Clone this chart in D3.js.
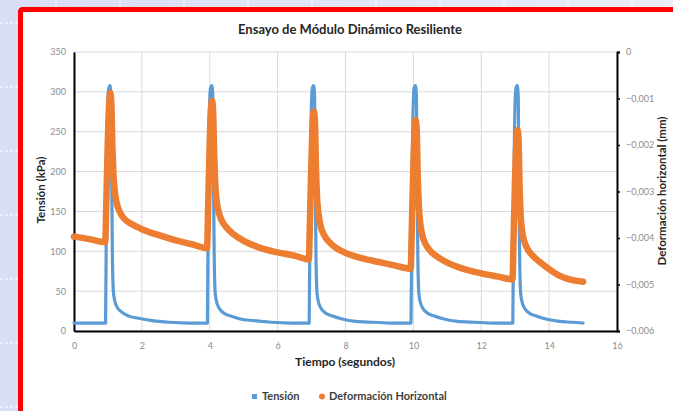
<!DOCTYPE html>
<html lang="es">
<head>
<meta charset="utf-8">
<title>Ensayo de Módulo Dinámico Resiliente</title>
<script src="https://d3js.org/d3.v7.min.js"></script>
<style>
  html, body { margin: 0; padding: 0; background: #fff; }
  svg { display: block; font-family: Lato, "Open Sans", sans-serif; }
</style>
</head>
<body>
<div id="chart"></div>
<script>
// Valores: [tiempo (s), valor]
var tension = [
  [0,10],[0.93,10],[0.95,120],[0.98,250],[1.02,303],[1.06,308],[1.09,295],[1.11,200],[1.13,100],[1.16,50],
  [1.2,38],[1.27,30],[1.4,24],[1.6,19],[1.9,16],[2.3,13],[2.8,11],[3.4,10],[3.93,10],
  [3.95,125],[3.98,255],[4.02,304],[4.06,308],[4.09,296],[4.11,195],[4.13,100],[4.16,48],
  [4.2,37],[4.27,29],[4.4,23],[4.6,19],[4.9,15],[5.3,13],[5.8,11],[6.4,10],[6.93,10],
  [6.95,120],[6.98,250],[7.02,304],[7.06,308],[7.09,294],[7.11,200],[7.13,95],[7.16,48],
  [7.2,37],[7.27,29],[7.4,23],[7.6,19],[7.9,15],[8.3,12],[8.8,11],[9.4,10],[9.93,10],
  [9.95,120],[9.98,252],[10.02,304],[10.06,308],[10.09,295],[10.11,198],[10.13,98],[10.16,48],
  [10.2,37],[10.27,29],[10.4,23],[10.6,19],[10.9,15],[11.3,12],[11.8,11],[12.4,10],[12.93,10],
  [12.95,122],[12.98,252],[13.02,304],[13.06,308],[13.09,295],[13.11,198],[13.13,98],[13.16,48],
  [13.2,37],[13.27,29],[13.4,23],[13.6,19],[13.9,15],[14.3,12],[14.7,11],[15.0,10]
];

var deformacion = [
  [0,-0.00397],[0.5,-0.00403],[0.92,-0.00409],[0.95,-0.0033],[0.99,-0.0021],[1.03,-0.0012],[1.07,-0.00088],
  [1.10,-0.0011],[1.13,-0.0020],[1.16,-0.0026],[1.2,-0.00298],[1.26,-0.00325],[1.35,-0.00344],[1.5,-0.0036],
  [1.7,-0.0037],[2.0,-0.00381],[2.5,-0.00394],[3.0,-0.00405],[3.5,-0.00414],[3.92,-0.00422],
  [3.95,-0.0034],[3.99,-0.0022],[4.03,-0.0013],[4.07,-0.00105],[4.10,-0.0013],[4.13,-0.0022],[4.16,-0.0028],
  [4.2,-0.00318],[4.26,-0.00343],[4.35,-0.00362],[4.5,-0.00378],[4.7,-0.00392],[5.0,-0.00406],[5.4,-0.00419],
  [6.0,-0.00431],[6.5,-0.00438],[6.92,-0.00446],
  [6.95,-0.0037],[6.99,-0.0025],[7.03,-0.0016],[7.07,-0.00128],[7.10,-0.0015],[7.13,-0.0025],[7.16,-0.0031],
  [7.2,-0.00345],[7.26,-0.00372],[7.35,-0.00391],[7.5,-0.00407],[7.7,-0.0042],[8.0,-0.00432],[8.5,-0.00444],
  [9.0,-0.00452],[9.5,-0.0046],[9.92,-0.00466],
  [9.95,-0.0039],[9.99,-0.0027],[10.03,-0.0018],[10.07,-0.00146],[10.10,-0.0017],[10.13,-0.0027],[10.16,-0.0033],
  [10.2,-0.00367],[10.26,-0.00393],[10.35,-0.00412],[10.5,-0.00428],[10.7,-0.0044],[11.0,-0.00453],[11.5,-0.00467],
  [12.0,-0.00476],[12.5,-0.00483],[12.92,-0.00489],
  [12.95,-0.0041],[12.99,-0.0029],[13.03,-0.002],[13.07,-0.00168],[13.10,-0.0019],[13.13,-0.0029],[13.16,-0.0035],
  [13.2,-0.00383],[13.26,-0.00405],[13.35,-0.00422],[13.5,-0.00437],[13.7,-0.0045],[14.0,-0.00467],[14.3,-0.00481],
  [14.6,-0.00489],[15.0,-0.00494]
];

var ticksTiempo = [0,2,4,6,8,10,12,14,16];
var ticksTension = [0,50,100,150,200,250,300,350];
var ticksDeform = [0,-0.001,-0.002,-0.003,-0.004,-0.005,-0.006];
var leyenda = ["Tensión", "Deformación Horizontal"];

var W = 673, H = 411;
var svg = d3.select("#chart").append("svg").attr("width", W).attr("height", H);

// fondo de la diapositiva
var grad = svg.append("defs").append("linearGradient").attr("id", "bg")
  .attr("x1", 0).attr("y1", 0).attr("x2", 1).attr("y2", 0);
grad.append("stop").attr("offset", "0%").attr("stop-color", "#d8dff4");
grad.append("stop").attr("offset", "100%").attr("stop-color", "#e9edf9");
svg.append("rect").attr("width", W).attr("height", H).attr("fill", "url(#bg)");
var bgLines = svg.append("g").attr("stroke", "#fff").attr("stroke-width", 1).attr("stroke-dasharray", "3,2");
d3.range(56, W, 64).forEach(function(x) {
  bgLines.append("line").attr("x1", x).attr("x2", x).attr("y1", 0).attr("y2", H);
});
d3.range(23, H, 64).forEach(function(y) {
  bgLines.append("line").attr("x1", 0).attr("x2", W).attr("y1", y).attr("y2", y);
});

// marco rojo
svg.append("rect").attr("x", 20.5).attr("y", 9.5).attr("width", W).attr("height", H)
  .attr("rx", 2).attr("fill", "#fff").attr("stroke", "#ff0000").attr("stroke-width", 5);

var x = d3.scaleLinear().domain([0, 16]).range([74, 617]);
var yL = d3.scaleLinear().domain([0, 350]).range([331, 52]);
var yR = d3.scaleLinear().domain([-0.006, 0]).range([331, 52]);

// rejilla
var grid = svg.append("g").attr("stroke", "#d9d9d9").attr("stroke-width", 1);
ticksTension.forEach(function(v) {
  grid.append("line").attr("x1", x(0)).attr("x2", x(16)).attr("y1", yL(v)).attr("y2", yL(v));
});
ticksTiempo.forEach(function(v) {
  grid.append("line").attr("x1", x(v)).attr("x2", x(v)).attr("y1", yL(0)).attr("y2", yL(350));
});

// ejes
var fmtR = function(d) { return d === 0 ? "0" : d3.format(".3f")(d).replace(".", ","); };
var ejeX = svg.append("g").attr("transform", "translate(0," + yL(0) + ")")
  .call(d3.axisBottom(x).tickValues(ticksTiempo).tickSize(0).tickPadding(12));
var ejeL = svg.append("g").attr("transform", "translate(" + x(0) + ",0)")
  .call(d3.axisLeft(yL).tickValues(ticksTension).tickSize(0).tickPadding(8));
var ejeR = svg.append("g").attr("transform", "translate(" + x(16) + ",0)")
  .call(d3.axisRight(yR).tickValues(ticksDeform).tickFormat(fmtR).tickSize(3).tickPadding(6));
[ejeX, ejeL, ejeR].forEach(function(g) {
  g.select(".domain").attr("stroke", "#000").attr("stroke-width", 2);
  g.selectAll(".tick line").attr("stroke", "#000").attr("stroke-width", 1.5);
  g.selectAll(".tick text").attr("fill", "#8c8c8c").attr("font-size", 9)
    .attr("font-family", "Lato, sans-serif");
});

// series
var lineL = d3.line().curve(d3.curveMonotoneX)
  .x(function(d) { return x(d[0]); }).y(function(d) { return yL(d[1]); });
var lineR = d3.line().curve(d3.curveMonotoneX)
  .x(function(d) { return x(d[0]); }).y(function(d) { return yR(d[1]); });
svg.append("path").datum(tension).attr("d", lineL)
  .attr("fill", "none").attr("stroke", "#5b9bd5").attr("stroke-width", 3.2)
  .attr("stroke-linejoin", "round").attr("stroke-linecap", "round");
svg.append("path").datum(deformacion).attr("d", lineR)
  .attr("fill", "none").attr("stroke", "#ed7d31").attr("stroke-width", 6.5)
  .attr("stroke-linejoin", "round").attr("stroke-linecap", "round");

// titulos
svg.append("text").attr("x", 350).attr("y", 34).attr("text-anchor", "middle")
  .attr("font-size", 13).attr("font-weight", "bold").attr("fill", "#262626")
  .text("Ensayo de Módulo Dinámico Resiliente");
svg.append("text").attr("x", 345).attr("y", 366).attr("text-anchor", "middle")
  .attr("font-size", 12).attr("font-weight", "bold").attr("fill", "#262626")
  .text("Tiempo (segundos)");
svg.append("text").attr("transform", "translate(45,190) rotate(-90)").attr("text-anchor", "middle")
  .attr("font-size", 11.5).attr("font-weight", "bold").attr("fill", "#262626")
  .text("Tensión (kPa)");
svg.append("text").attr("transform", "translate(666,191) rotate(-90)").attr("text-anchor", "middle")
  .attr("font-size", 11.5).attr("font-weight", "bold").attr("fill", "#262626")
  .text("Deformación horizontal (mm)");

// leyenda
var ley = svg.append("g").attr("font-size", 11).attr("font-weight", "bold").attr("fill", "#404040");
ley.append("rect").attr("x", 252).attr("y", 394).attr("width", 5).attr("height", 5).attr("fill", "#5b9bd5");
ley.append("text").attr("x", 262).attr("y", 400).text(leyenda[0]);
ley.append("circle").attr("cx", 322).attr("cy", 396.5).attr("r", 3).attr("fill", "#ed7d31");
ley.append("text").attr("x", 329).attr("y", 400).text(leyenda[1]);
</script>
</body>
</html>
